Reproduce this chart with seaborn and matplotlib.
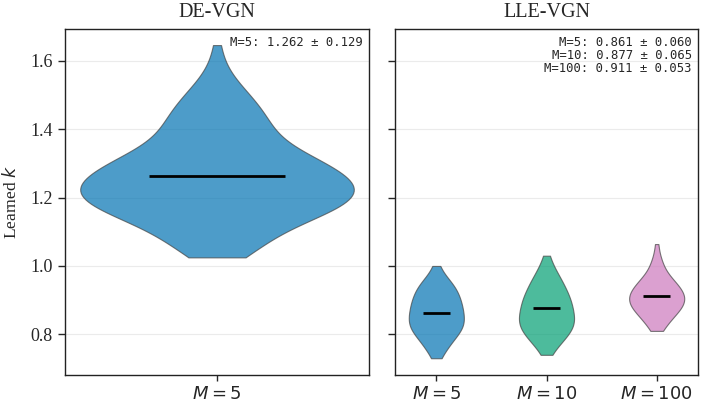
import numpy as np
import pandas as pd
import matplotlib
matplotlib.use("Agg")
import matplotlib.pyplot as plt
import seaborn as sns

de_labels = ["$M=5$"]
de_vals = [1.025, 1.05, 1.075, 1.10, 1.125, 1.15, 1.175, 1.20, 1.225, 1.25, 1.275, 1.30,
           1.325, 1.35, 1.375, 1.40, 1.425, 1.45, 1.475, 1.50, 1.525, 1.55, 1.575, 1.60, 1.646]
de_counts = [5, 5, 6, 7, 10, 13, 16, 18, 18, 17, 15, 14,
             11, 8, 7, 7, 6, 6, 5, 4, 3, 2, 1, 1, 1]
de_means = [1.262]

lle_labels = ["$M=5$", "$M=10$", "$M=100$"]
lle_m5_vals = [0.73, 0.75, 0.77, 0.79, 0.81, 0.83, 0.85, 0.87, 0.89, 0.91, 0.93, 0.95, 0.97, 1.00]
lle_m5_counts = [1, 2, 3, 4, 6, 7, 6, 6, 6, 5, 5, 4, 2, 1]
lle_m10_vals = [0.74, 0.76, 0.78, 0.80, 0.82, 0.84, 0.86, 0.88, 0.90, 0.92, 0.94, 0.96, 0.98, 1.00, 1.03]
lle_m10_counts = [1, 2, 4, 5, 7, 7, 6, 6, 6, 5, 4, 4, 2, 2, 1]
lle_m100_vals = [0.81, 0.83, 0.85, 0.87, 0.89, 0.91, 0.93, 0.95, 0.97, 0.99, 1.01, 1.03, 1.064]
lle_m100_counts = [2, 3, 5, 7, 9, 9, 8, 6, 4, 2, 2, 1, 1]
lle_means = [0.861, 0.877, 0.911]

de_text = "M=5: 1.262 ± 0.129"
lle_text = "M=5: 0.861 ± 0.060\nM=10: 0.877 ± 0.065\nM=100: 0.911 ± 0.053"
titles = ["DE-VGN", "LLE-VGN"]
ylabel = "Learned $k$"
yticks = [0.8, 1.0, 1.2, 1.4, 1.6]

# ---------------- tables ----------------
de_df = pd.DataFrame({"M": np.repeat(de_labels[0], sum(de_counts)),
                      "k": np.repeat(de_vals, de_counts)})
lle_parts = []
for lab, v, c in zip(lle_labels,
                     [lle_m5_vals, lle_m10_vals, lle_m100_vals],
                     [lle_m5_counts, lle_m10_counts, lle_m100_counts]):
    lle_parts.append(pd.DataFrame({"M": np.repeat(lab, sum(c)), "k": np.repeat(v, c)}))
lle_df = pd.concat(lle_parts, ignore_index=True)

# ---------------- style ----------------
sns.set_style("white")
plt.rcParams["font.family"] = ["Liberation Serif", "DejaVu Serif"]
plt.rcParams["mathtext.fontset"] = "dejavusans"

cb = sns.color_palette("colorblind")
fig = plt.figure(figsize=(7.02, 4.09), dpi=100)
axL = fig.add_axes([65 / 702, 34 / 409, 304 / 702, 346 / 409])
axR = fig.add_axes([395 / 702, 34 / 409, 303 / 702, 346 / 409], sharey=axL)

common = dict(x="M", y="k", hue="M", cut=0, inner=None, density_norm="width",
              saturation=1, linewidth=0.8, linecolor="#444444", alpha=0.7, legend=False)

sns.violinplot(data=de_df, order=de_labels, hue_order=de_labels, palette=[cb[0]],
               width=0.9, ax=axL, **common)
sns.violinplot(data=lle_df, order=lle_labels, hue_order=lle_labels,
               palette=[cb[0], cb[2], cb[4]], width=0.5, ax=axR, **common)

for i, m in enumerate(de_means):
    axL.hlines(m, i - 0.225, i + 0.225, color="black", lw=2, zorder=5)
for i, m in enumerate(lle_means):
    axR.hlines(m, i - 0.125, i + 0.125, color="black", lw=2, zorder=5)

axL.set_xlim(-0.5, 0.5)
axR.set_xlim(-0.375, 2.375)
axL.set_ylim(0.681, 1.693)
axL.set_yticks(yticks)
axL.set_yticklabels([f"{t:.1f}" for t in yticks])

for ax, title, txt in zip([axL, axR], titles, [de_text, lle_text]):
    ax.set_title(title, fontsize=14.5, pad=8.5)
    ax.set_xlabel("")
    ax.yaxis.grid(True, color="#ebebeb", lw=0.8)
    ax.set_axisbelow(True)
    for s in ax.spines.values():
        s.set_visible(True)
        s.set_color("#222222")
        s.set_linewidth(1.0)
    ax.tick_params(axis="y", direction="out", length=5, width=1, pad=4, labelsize=13, left=True)
    ax.tick_params(axis="x", direction="out", length=4, width=1, pad=4, labelsize=13, bottom=True)
    ax.text(0.98, 0.98, txt, transform=ax.transAxes, ha="right", va="top",
            ma="right", family="DejaVu Sans Mono", fontsize=8.8, linespacing=1.0)

axL.set_ylabel(ylabel, fontsize=12.5, labelpad=7)
axR.set_ylabel("")
axR.tick_params(axis="y", labelleft=False)

fig.savefig("out.png", dpi=100)
